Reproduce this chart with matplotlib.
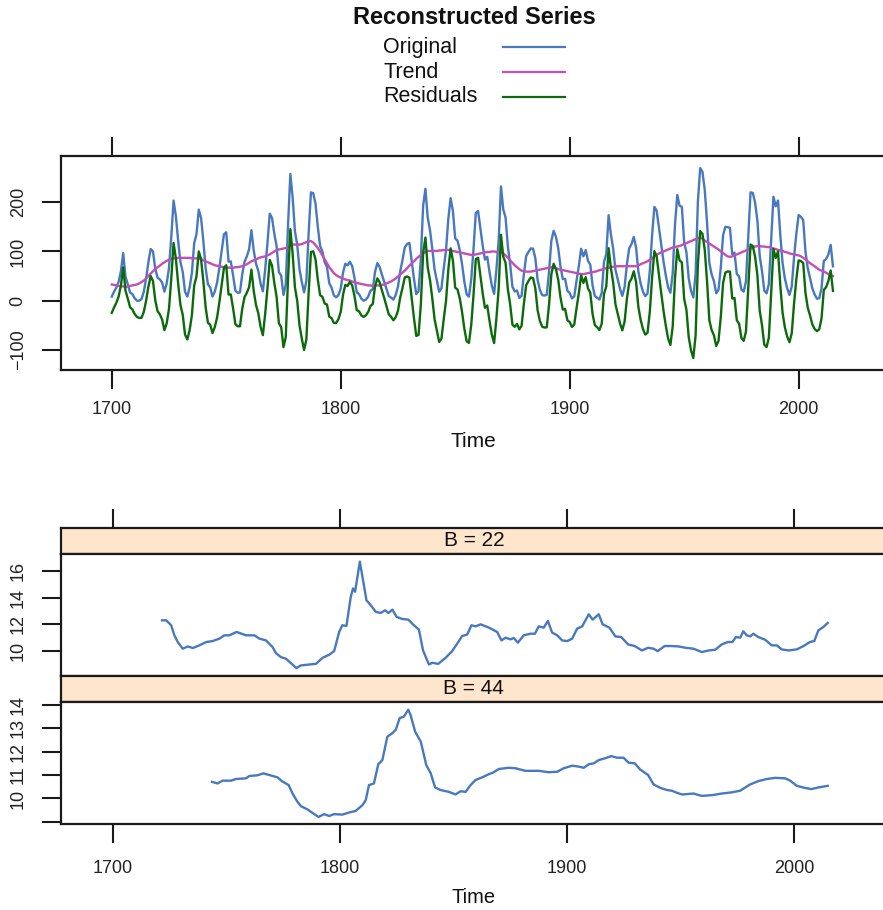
import numpy as np
import matplotlib
matplotlib.use("Agg")
import matplotlib.pyplot as plt
from matplotlib.lines import Line2D

plt.rcParams['font.family'] = ['Liberation Sans', 'DejaVu Sans']

# Yearly sunspot numbers, 1700-2015
years = np.arange(1700, 2016)
original = np.array([
    8.3, 18.3, 26.7, 38.3, 60.0, 96.7, 48.3, 33.3, 16.7, 13.3,
    5.0, 0.0, 0.0, 3.3, 18.3, 45.0, 78.3, 105.0, 100.0, 65.0,
    46.7, 43.3, 36.7, 18.3, 35.0, 66.7, 130.0, 203.3, 171.7, 121.7,
    78.3, 58.3, 18.3, 8.3, 26.7, 56.7, 116.7, 135.0, 185.0, 168.3,
    121.7, 66.7, 33.3, 26.7, 8.3, 18.3, 36.7, 66.7, 100.0, 134.8,
    139.0, 79.5, 79.7, 51.2, 20.3, 16.0, 17.0, 54.0, 79.3, 90.0,
    104.8, 143.2, 102.0, 75.2, 60.7, 34.8, 19.0, 63.0, 116.3, 176.8,
    168.0, 136.0, 110.8, 58.0, 51.0, 11.7, 33.0, 154.2, 257.3, 209.8,
    141.3, 113.5, 64.2, 38.0, 17.0, 40.2, 138.2, 220.0, 218.2, 196.8,
    149.8, 111.0, 100.0, 78.2, 68.3, 35.5, 26.7, 10.7, 6.8, 11.3,
    24.2, 56.7, 75.0, 71.8, 79.2, 70.3, 46.8, 16.8, 13.5, 4.2,
    0.0, 2.3, 8.3, 20.3, 23.2, 59.0, 76.3, 68.3, 52.9, 38.5,
    24.2, 9.2, 6.3, 2.2, 11.4, 28.2, 59.9, 83.0, 108.5, 115.2,
    117.4, 80.8, 44.3, 13.4, 19.5, 85.8, 192.7, 227.3, 168.7, 143.0,
    105.5, 63.3, 40.3, 18.1, 25.1, 65.8, 102.7, 166.3, 208.3, 182.5,
    126.3, 122.0, 102.7, 74.1, 39.0, 12.7, 8.2, 43.4, 104.4, 178.3,
    182.2, 146.6, 112.1, 83.5, 89.2, 57.8, 30.7, 13.9, 62.8, 123.6,
    232.0, 185.3, 169.2, 110.1, 74.5, 28.3, 18.9, 20.7, 5.7, 10.0,
    53.7, 90.5, 99.0, 106.1, 105.8, 86.3, 42.4, 21.8, 11.2, 10.4,
    11.8, 59.5, 121.7, 142.0, 130.0, 106.6, 69.4, 43.8, 44.4, 20.2,
    15.7, 4.6, 8.5, 40.8, 70.1, 105.5, 90.1, 102.8, 80.9, 73.2,
    30.9, 9.5, 6.0, 2.4, 16.1, 79.0, 95.0, 173.6, 134.6, 105.7,
    62.7, 43.5, 23.7, 9.7, 27.9, 74.0, 106.5, 114.7, 129.7, 108.2,
    59.4, 35.1, 18.6, 9.2, 14.6, 60.2, 132.8, 190.6, 182.6, 148.0,
    113.0, 79.2, 50.8, 27.1, 16.1, 55.3, 154.3, 214.7, 193.0, 190.7,
    118.9, 98.3, 45.0, 20.1, 6.6, 54.2, 200.7, 269.3, 261.7, 225.1,
    159.0, 76.4, 53.4, 39.9, 15.0, 22.0, 66.8, 132.9, 150.0, 149.4,
    148.0, 94.4, 97.6, 54.1, 49.2, 22.5, 18.4, 39.3, 131.0, 220.1,
    218.9, 198.9, 162.4, 91.0, 60.5, 20.6, 14.8, 33.9, 123.0, 211.1,
    191.8, 203.3, 133.0, 76.1, 44.9, 25.1, 11.6, 28.9, 88.3, 136.3,
    173.9, 170.4, 163.6, 99.3, 65.3, 45.8, 24.7, 12.6, 4.2, 4.8,
    24.9, 80.8, 84.5, 94.0, 113.3, 69.8,
])

# Reconstructed trend component, 1700-2015
trend = np.array([
    33, 32, 31, 30, 29, 29, 28, 29, 30, 31,
    32, 33, 35, 38, 41, 45, 50, 55, 60, 64,
    68, 71, 75, 78, 81, 83, 85, 86, 86, 87,
    87, 87, 87, 87, 87, 86, 86, 86, 85, 84,
    82, 80, 78, 76, 74, 72, 71, 70, 69, 68,
    67, 67, 67, 67, 68, 68, 69, 70, 72, 74,
    77, 80, 82, 84, 86, 88, 89, 90, 92, 94,
    97, 100, 103, 104, 105, 106, 107, 109, 112, 114,
    114, 114, 114, 115, 117, 119, 121, 121, 118, 113,
    107, 100, 92, 84, 76, 68, 62, 56, 52, 49,
    47, 45, 43, 42, 41, 39, 37, 36, 35, 34,
    33, 32, 31, 31, 30, 30, 31, 31, 32, 33,
    35, 37, 39, 42, 45, 49, 53, 57, 61, 66,
    71, 76, 80, 85, 89, 93, 96, 99, 101, 101,
    101, 101, 101, 102, 102, 103, 103, 103, 102, 101,
    100, 99, 98, 97, 96, 95, 94, 93, 93, 94,
    95, 96, 97, 98, 99, 99, 100, 100, 99, 99,
    98, 96, 92, 87, 82, 77, 72, 68, 64, 61,
    60, 59, 59, 59, 60, 61, 62, 63, 64, 65,
    66, 67, 68, 67, 66, 64, 63, 62, 61, 60,
    59, 58, 57, 56, 55, 54, 54, 55, 56, 57,
    58, 59, 60, 62, 63, 65, 66, 67, 68, 69,
    70, 70, 70, 70, 70, 70, 70, 70, 70, 70,
    72, 74, 76, 78, 80, 83, 86, 90, 93, 96,
    98, 100, 102, 104, 106, 108, 109, 110, 111, 113,
    115, 117, 119, 121, 123, 125, 127, 128, 126, 122,
    119, 116, 113, 110, 107, 104, 100, 97, 93, 90,
    89, 90, 92, 94, 96, 98, 100, 102, 104, 106,
    108, 110, 111, 111, 110, 110, 109, 109, 108, 106,
    105, 103, 102, 101, 99, 98, 96, 95, 94, 93,
    92, 90, 87, 84, 80, 76, 73, 70, 66, 63,
    61, 59, 57, 54, 52, 50,
], dtype=float)

residuals = original - trend

# Rolling estimates for window B = 22
b22_years = [1721.8, 1723.6, 1725.8, 1727.2, 1728.7, 1730.9, 1733.1, 1735.3, 1738.2,
             1741.2, 1744.0, 1747.0, 1749.2, 1751.4, 1754.6, 1758.7, 1762.4, 1764.6,
             1767.5, 1770.4, 1771.9, 1774.1, 1776.3, 1778.5, 1780.9, 1782.8, 1786.5,
             1789.5, 1792.4, 1795.3, 1797.5, 1799.7, 1801.1, 1802.9, 1804.8, 1805.8,
             1806.7, 1808.8, 1810.2, 1811.7, 1813.6, 1815.8, 1818.0, 1819.9, 1821.4,
             1823.1, 1825.0, 1827.5, 1830.1, 1832.6, 1834.8, 1836.6, 1839.2, 1840.7,
             1843.3, 1846.5, 1849.4, 1851.6, 1853.8, 1856.0, 1857.9, 1859.7, 1861.9,
             1865.6, 1869.2, 1871.1, 1872.9, 1875.1, 1876.5, 1878.3, 1880.9, 1883.9,
             1885.8, 1887.5, 1889.7, 1891.5, 1893.4, 1895.6, 1897.8, 1900.0, 1902.2,
             1904.4, 1906.6, 1909.5, 1911.2, 1913.9, 1915.6, 1918.6, 1921.2, 1923.8,
             1926.8, 1929.7, 1932.9, 1935.6, 1938.0, 1939.8, 1942.9, 1946.1, 1949.0,
             1952.0, 1955.6, 1959.2, 1962.2, 1965.1, 1968.0, 1970.7, 1972.7, 1974.2,
             1976.1, 1977.5, 1979.0, 1980.5, 1981.9, 1984.1, 1987.1, 1990.0, 1992.2,
             1994.4, 1997.4, 2001.0, 2004.0, 2006.8, 2008.7, 2010.5, 2012.7, 2014.6]
b22_values = [12.30, 12.30, 11.93, 11.18, 10.68, 10.18, 10.35, 10.23, 10.43,
              10.68, 10.75, 10.93, 11.18, 11.18, 11.43, 11.18, 11.18, 10.93,
              10.80, 10.30, 9.85, 9.55, 9.43, 9.10, 8.73, 8.93, 9.00,
              9.05, 9.50, 9.73, 10.00, 11.43, 11.93, 11.88, 14.05, 14.68,
              14.43, 16.68, 15.30, 13.80, 13.43, 12.93, 12.85, 13.05, 12.85,
              13.10, 12.55, 12.40, 12.35, 11.93, 11.60, 10.05, 9.00, 9.13,
              9.05, 9.50, 10.00, 10.55, 11.13, 11.23, 11.93, 11.85, 12.00,
              11.75, 11.43, 10.80, 11.00, 10.88, 10.98, 10.63, 11.18, 11.30,
              11.30, 11.85, 11.75, 12.25, 11.38, 11.18, 10.80, 10.75, 10.93,
              11.68, 11.85, 12.75, 12.35, 12.75, 12.00, 11.75, 11.10, 11.05,
              10.50, 10.38, 10.05, 10.25, 10.18, 10.00, 10.38, 10.38, 10.35,
              10.25, 10.18, 9.93, 10.05, 10.10, 10.50, 10.68, 10.68, 11.05,
              11.00, 11.48, 11.18, 11.10, 11.30, 11.05, 10.85, 10.43, 10.43,
              10.13, 10.05, 10.13, 10.38, 10.68, 10.75, 11.55, 11.80, 12.10]

# Rolling estimates for window B = 44
b44_years = [1743.8, 1746.2, 1748.4, 1752.1, 1754.3, 1758.7, 1760.2, 1763.8, 1766.3,
             1769.0, 1772.6, 1774.5, 1777.5, 1779.2, 1781.4, 1782.9, 1785.8, 1788.0,
             1790.6, 1793.1, 1795.3, 1797.5, 1801.1, 1804.1, 1807.0, 1809.9, 1811.4,
             1812.8, 1815.0, 1816.9, 1818.7, 1820.9, 1823.1, 1824.6, 1826.3, 1828.2,
             1830.1, 1831.1, 1833.1, 1835.6, 1838.0, 1840.0, 1841.9, 1844.3, 1848.0,
             1850.9, 1853.1, 1855.3, 1857.5, 1859.7, 1862.6, 1865.6, 1867.3, 1870.0,
             1874.3, 1877.3, 1881.6, 1887.5, 1891.9, 1895.6, 1898.5, 1902.2, 1905.1,
             1907.3, 1909.5, 1911.7, 1913.9, 1916.8, 1919.4, 1921.9, 1924.8, 1927.0,
             1929.7, 1932.1, 1935.6, 1938.0, 1941.0, 1943.9, 1946.1, 1948.3, 1950.5,
             1955.6, 1959.2, 1963.6, 1968.0, 1972.4, 1976.1, 1980.5, 1984.1, 1987.8,
             1991.5, 1995.9, 1998.1, 2001.0, 2004.6, 2007.5, 2010.5, 2014.6]
b44_values = [10.71, 10.64, 10.76, 10.76, 10.83, 10.86, 10.96, 10.99, 11.07,
              11.00, 10.90, 10.74, 10.57, 10.21, 9.85, 9.67, 9.53, 9.38,
              9.21, 9.33, 9.25, 9.33, 9.31, 9.40, 9.47, 9.71, 9.93,
              10.57, 10.64, 11.46, 11.64, 12.64, 12.79, 12.93, 13.43, 13.50,
              13.79, 13.57, 12.86, 12.43, 11.43, 11.07, 10.47, 10.36, 10.28,
              10.17, 10.31, 10.28, 10.57, 10.79, 10.90, 11.04, 11.10, 11.26,
              11.31, 11.29, 11.18, 11.18, 11.12, 11.14, 11.29, 11.40, 11.36,
              11.31, 11.46, 11.50, 11.64, 11.72, 11.81, 11.74, 11.74, 11.53,
              11.50, 11.24, 11.00, 10.60, 10.45, 10.36, 10.33, 10.24, 10.17,
              10.21, 10.11, 10.14, 10.21, 10.26, 10.33, 10.60, 10.74, 10.83,
              10.88, 10.86, 10.76, 10.54, 10.45, 10.40, 10.47, 10.54]

xticks = [1700, 1800, 1900, 2000]
top_yticks = [-100, 0, 100, 200]
b22_yticks = [10, 12, 14, 16]
b44_yticks = [9, 10, 11, 12, 13, 14]
b44_ylabels = ['', '10', '11', '12', '13', '14']

C_ORIG = '#4878BE'
C_TREND = '#C24FB7'
C_RESID = '#0B6B0B'
STRIP = '#FFE5CC'

W, H = 883, 910
fig = plt.figure(figsize=(W / 100, H / 100), dpi=100)


def fax(x0, y0, x1, y1):
    """Axes from pixel box (left, top, right, bottom)."""
    return fig.add_axes([x0 / W, 1 - y1 / H, (x1 - x0) / W, (y1 - y0) / H])


def frame(ax):
    for s in ax.spines.values():
        s.set_linewidth(1.6)
        s.set_color('#1a1a1a')


TICK_KW = dict(direction='out', length=13.5, width=1.5, color='#1a1a1a',
               labelsize=13, labelcolor='#222222')

# ---- title and key ----
fig.text(474 / W, 1 - 18 / H, 'Reconstructed Series', ha='center', va='center',
         fontsize=17, fontweight='bold', color='#111111')
for i, (lab, col) in enumerate([('Original', C_ORIG), ('Trend', C_TREND),
                                ('Residuals', C_RESID)]):
    yy = 1 - (47 + 25 * i) / H
    fig.text(383 / W, yy, lab, ha='left', va='center', fontsize=15.5, color='#111111')
    fig.add_artist(Line2D([503 / W, 565 / W], [yy, yy], color=col, lw=1.6,
                          transform=fig.transFigure))

# ---- upper panel ----
ax = fax(60.7, 155.7, 887, 370)
ax.plot(years, original, color=C_ORIG, lw=1.7)
ax.plot(years, trend, color=C_TREND, lw=1.7)
ax.plot(years, residuals, color=C_RESID, lw=1.7)
ax.set_xlim(1677.7, 2038.6)
ax.set_ylim(-140.8, 294.5)
ax.set_xticks(xticks)
ax.set_yticks(top_yticks)
ax.tick_params(axis='both', **TICK_KW)
ax.tick_params(axis='x', top=True, labeltop=False, pad=9)
ax.tick_params(axis='y', pad=11)
for t in ax.get_yticklabels():
    t.set_rotation(90)
    t.set_va('center')
ax.set_xlabel('Time', fontsize=15, labelpad=10, color='#111111')
frame(ax)

# ---- lower panels ----
XL = (1677.2, 2040.7)

s1 = fax(60.7, 527.5, 887, 554)
s1.set_facecolor(STRIP)
s1.set_xlim(*XL)
s1.set_yticks([])
s1.set_xticks(xticks)
s1.tick_params(axis='x', **TICK_KW)
s1.tick_params(axis='x', top=True, bottom=False, labelbottom=False, labeltop=False)
s1.text(0.5, 0.5, 'B = 22', transform=s1.transAxes, ha='center', va='center',
        fontsize=15, color='#111111')
frame(s1)

p1 = fax(60.7, 554, 887, 675.5)
p1.plot(b22_years, b22_values, color=C_ORIG, lw=1.7)
p1.set_xlim(*XL)
p1.set_ylim(8.18, 17.25)
p1.set_xticks([])
p1.set_yticks(b22_yticks)
p1.tick_params(axis='y', **TICK_KW)
p1.tick_params(axis='y', pad=11)
for t in p1.get_yticklabels():
    t.set_rotation(90)
    t.set_va('center')
frame(p1)

s2 = fax(60.7, 675.5, 887, 702)
s2.set_facecolor(STRIP)
s2.set_xlim(*XL)
s2.set_xticks([])
s2.set_yticks([])
s2.text(0.5, 0.5, 'B = 44', transform=s2.transAxes, ha='center', va='center',
        fontsize=15, color='#111111')
frame(s2)

p2 = fax(60.7, 702, 887, 823.5)
p2.plot(b44_years, b44_values, color=C_ORIG, lw=1.7)
p2.set_xlim(*XL)
p2.set_ylim(8.93, 14.12)
p2.set_xticks(xticks)
p2.set_yticks(b44_yticks)
p2.set_yticklabels(b44_ylabels)
p2.tick_params(axis='both', **TICK_KW)
p2.tick_params(axis='x', pad=13)
p2.tick_params(axis='y', pad=11)
for t in p2.get_yticklabels():
    t.set_rotation(90)
    t.set_va('center')
p2.set_xlabel('Time', fontsize=14.5, labelpad=8, color='#111111')
frame(p2)

fig.savefig('out.png', dpi=100, facecolor='white')
